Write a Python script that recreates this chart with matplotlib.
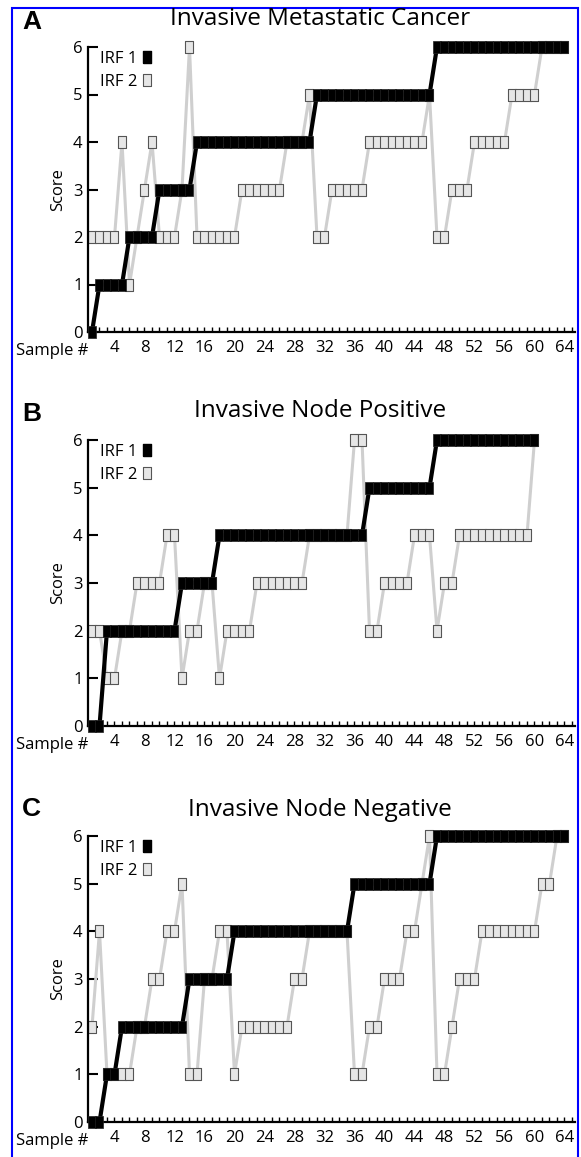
import matplotlib.pyplot as plt
from matplotlib.lines import Line2D
from matplotlib.patches import Rectangle

plt.rcParams['font.family'] = ['Open Sans', 'DejaVu Sans']

# scores per sample
irf1_a = [0, 1, 1, 1, 1, 2, 2, 2, 2, 3, 3, 3, 3, 3, 4, 4,
          4, 4, 4, 4, 4, 4, 4, 4, 4, 4, 4, 4, 4, 4, 5, 5,
          5, 5, 5, 5, 5, 5, 5, 5, 5, 5, 5, 5, 5, 5, 6, 6,
          6, 6, 6, 6, 6, 6, 6, 6, 6, 6, 6, 6, 6, 6, 6, 6]
irf2_a = [2, 2, 2, 2, 4, 1, 2, 3, 4, 2, 2, 2, 3, 6, 2, 2,
          2, 2, 2, 2, 3, 3, 3, 3, 3, 3, 4, 4, 4, 5, 2, 2,
          3, 3, 3, 3, 3, 4, 4, 4, 4, 4, 4, 4, 4, 5, 2, 2,
          3, 3, 3, 4, 4, 4, 4, 4, 5, 5, 5, 5, 6, 6, 6, 6]

irf1_b = [0, 0, 2, 2, 2, 2, 2, 2, 2, 2, 2, 2, 3, 3, 3, 3,
          3, 4, 4, 4, 4, 4, 4, 4, 4, 4, 4, 4, 4, 4, 4, 4,
          4, 4, 4, 4, 4, 5, 5, 5, 5, 5, 5, 5, 5, 5, 6, 6,
          6, 6, 6, 6, 6, 6, 6, 6, 6, 6, 6, 6]
irf2_b = [2, 2, 1, 1, 2, 2, 3, 3, 3, 3, 4, 4, 1, 2, 2, 3,
          3, 1, 2, 2, 2, 2, 3, 3, 3, 3, 3, 3, 3, 4, 4, 4,
          4, 4, 4, 6, 6, 2, 2, 3, 3, 3, 3, 4, 4, 4, 2, 3,
          3, 4, 4, 4, 4, 4, 4, 4, 4, 4, 4, 6]

irf1_c = [0, 0, 1, 1, 2, 2, 2, 2, 2, 2, 2, 2, 2, 3, 3, 3,
          3, 3, 3, 4, 4, 4, 4, 4, 4, 4, 4, 4, 4, 4, 4, 4,
          4, 4, 4, 5, 5, 5, 5, 5, 5, 5, 5, 5, 5, 5, 6, 6,
          6, 6, 6, 6, 6, 6, 6, 6, 6, 6, 6, 6, 6, 6, 6, 6]
irf2_c = [2, 4, 1, 1, 1, 1, 2, 2, 3, 3, 4, 4, 5, 1, 1, 3,
          3, 4, 4, 1, 2, 2, 2, 2, 2, 2, 2, 3, 3, 4, 4, 4,
          4, 4, 4, 1, 1, 2, 2, 3, 3, 3, 4, 4, 5, 6, 1, 1,
          2, 3, 3, 3, 4, 4, 4, 4, 4, 4, 4, 4, 5, 5, 6, 6]

letras = ['A', 'B', 'C']
titulos = ['Invasive Metastatic Cancer', 'Invasive Node Positive', 'Invasive Node Negative']
series_irf1 = [irf1_a, irf1_b, irf1_c]
series_irf2 = [irf2_a, irf2_b, irf2_c]
xticks = list(range(4, 65, 4))

W, H = 581, 1157
# pixel rows of y=0 and y=6 for each panel
linhas = [(332, 47), (726, 440), (1122, 836)]
titulo_y = [19, 411, 810]
letra_y = [22, 414, 809]

fig = plt.figure(figsize=(W / 100, H / 100), dpi=100)

ret = [(-0.32, -0.5), (0.32, -0.5), (0.32, 0.5), (-0.32, 0.5), (-0.32, -0.5)]

for i in range(3):
    y0, y6 = linhas[i]
    ax = fig.add_axes([88 / W, 1 - y0 / H, 487 / W, (y0 - y6) / H])
    irf1 = series_irf1[i]
    irf2 = series_irf2[i]
    x1 = list(range(1, len(irf1) + 1))
    x2 = list(range(1, len(irf2) + 1))

    ax.plot(x2, irf2, color='#cfcfcf', lw=2.2, marker=ret, ms=8,
            mfc='#e6e6e6', mec='#555555', mew=0.8, clip_on=False, zorder=2)
    ax.plot(x1, irf1, color='black', lw=3, marker=ret, ms=8,
            mfc='black', mec='#222222', mew=0.5, clip_on=False, zorder=3)

    ax.set_xlim(0.467, 65.4)
    ax.set_ylim(0, 6)
    ax.spines['top'].set_visible(False)
    ax.spines['right'].set_visible(False)
    ax.spines['left'].set_linewidth(1.6)
    ax.spines['bottom'].set_linewidth(1.6)

    ax.set_xticks(xticks)
    ax.set_xticklabels([str(t) for t in xticks])
    ax.set_xticks(list(range(1, 66)), minor=True)
    ax.set_yticks(range(7))
    ax.tick_params(axis='y', direction='in', length=7, width=1.5, labelsize=12, pad=4)
    ax.tick_params(axis='x', which='both', direction='in', length=3.5, width=1,
                   labelsize=12, pad=6)
    ax.set_ylabel('Score', fontsize=12, labelpad=5)
    ax.annotate('Sample #', xy=(0, 0), xycoords='axes fraction', xytext=(0, -14),
                textcoords='offset points', ha='right', va='center', fontsize=12)

    h1 = Line2D([], [], ls='none', marker=ret, ms=8, mfc='black', mec='black')
    h2 = Line2D([], [], ls='none', marker=ret, ms=8, mfc='#e6e6e6', mec='#555555', mew=0.8)
    ax.legend([h1, h2], ['IRF 1', 'IRF 2'], loc='upper left', bbox_to_anchor=(0.007, 1.016),
              frameon=False, markerfirst=False, handlelength=0.6, handletextpad=0.3,
              labelspacing=0.43, borderpad=0, fontsize=12)

    fig.text(320 / W, 1 - titulo_y[i] / H, titulos[i], ha='center', va='center', fontsize=17.5)
    fig.text(22 / W, 1 - letra_y[i] / H, letras[i], ha='left', va='center',
             fontsize=19, fontweight='bold', family='Liberation Sans')

borda = Rectangle((12 / W, -0.05), (578 - 12) / W, 1 - 8 / H + 0.05, fill=False,
                  edgecolor='#0000ff', lw=1.5, transform=fig.transFigure)
fig.add_artist(borda)

fig.savefig('out.png', dpi=100)
